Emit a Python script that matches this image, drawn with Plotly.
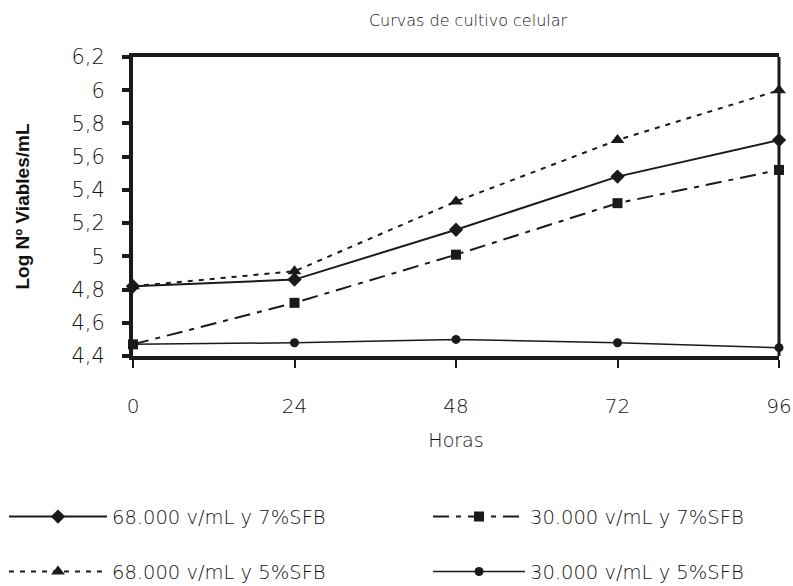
import plotly.graph_objects as go

horas = [0, 24, 48, 72, 96]
s68_7 = [4.82, 4.86, 5.16, 5.48, 5.70]
s30_7 = [4.47, 4.72, 5.01, 5.32, 5.52]
s68_5 = [4.82, 4.91, 5.33, 5.70, 6.00]
s30_5 = [4.47, 4.48, 4.50, 4.48, 4.45]

names = ["68.000 v/mL y 7%SFB", "30.000 v/mL y 7%SFB",
         "68.000 v/mL y 5%SFB", "30.000 v/mL y 5%SFB"]
y_ticks = [4.4, 4.6, 4.8, 5.0, 5.2, 5.4, 5.6, 5.8, 6.0, 6.2]

FONT = "DejaVu Sans"
TXT = "#111111"
fig = go.Figure()
fig.add_trace(go.Scatter(x=horas, y=s68_7, name=names[0], mode="lines+markers",
                         line=dict(color="#1a1a1a", width=2),
                         marker=dict(symbol="diamond", size=11, color="#1a1a1a"),
                         cliponaxis=False, legend="legend", showlegend=True))
fig.add_trace(go.Scatter(x=horas, y=s30_7, name=names[1], mode="lines+markers",
                         line=dict(color="#1a1a1a", width=2, dash="16px,7px,5px,7px"),
                         marker=dict(symbol="square", size=10, color="#1a1a1a"),
                         cliponaxis=False, legend="legend2", showlegend=True))
fig.add_trace(go.Scatter(x=horas, y=s68_5, name=names[2], mode="lines+markers",
                         line=dict(color="#1a1a1a", width=2, dash="5px,6px"),
                         marker=dict(symbol="triangle-up", size=12, color="#1a1a1a"),
                         cliponaxis=False, legend="legend3", showlegend=True))
fig.add_trace(go.Scatter(x=horas, y=s30_5, name=names[3], mode="lines+markers",
                         line=dict(color="#1a1a1a", width=1.5),
                         marker=dict(symbol="circle", size=9, color="#1a1a1a"),
                         cliponaxis=False, legend="legend4", showlegend=True))

def leg(x, y, iw):
    return dict(orientation="h", xref="paper", yref="paper", x=x, y=y,
                xanchor="left", yanchor="middle", visible=True,
                font=dict(family=FONT, size=19.5, color=TXT, weight=300),
                bgcolor="rgba(0,0,0,0)", itemwidth=iw)

fig.update_layout(
    width=793, height=586,
    showlegend=True,
    margin=dict(l=133, r=14, t=57, b=230, autoexpand=False),
    paper_bgcolor="white", plot_bgcolor="white",
    separators=",.",
    title=dict(text="Curvas de cultivo celular", x=0.5186, xref="paper",
               y=0.966, yanchor="middle",
               xanchor="center", font=dict(family=FONT, size=16, color=TXT, weight=300)),
    xaxis=dict(range=[0, 96], tickvals=horas, showgrid=False, zeroline=False,
               automargin=False,
               showline=True, linewidth=4, linecolor="#1a1a1a", mirror=True,
               ticks="outside", ticklen=8, tickwidth=1.5, tickcolor="#1a1a1a",
               ticklabelstandoff=21,
               tickfont=dict(family=FONT, size=20, color=TXT, weight=300),
               title=dict(text="Horas", font=dict(family=FONT, size=19, color=TXT, weight=300),
                          standoff=18)),
    yaxis=dict(range=[4.4, 6.2], tickvals=y_ticks, showgrid=False, zeroline=False,
               automargin=False,
               showline=True, linewidth=4, linecolor="#1a1a1a",
               ticks="outside", ticklen=7, tickwidth=4, tickcolor="#1a1a1a",
               ticklabelstandoff=13,
               tickfont=dict(family=FONT, size=21, color=TXT, weight=300),
               title=dict(text="<b>Log Nº Viables/mL</b>",
                          font=dict(family="Liberation Sans", size=19, color="#111"),
                          standoff=38)),
    legend=leg(-0.1997, -0.538, 98),
    legend2=leg(0.4567, -0.538, 92),
    legend3=leg(-0.1997, -0.722, 98),
    legend4=leg(0.4567, -0.722, 92),
    shapes=[dict(type="line", xref="paper", yref="paper", x0=1, x1=1, y0=0, y1=1,
                 line=dict(color="#1a1a1a", width=3))],
)

fig.write_html("out.html",
               config={"displayModeBar": False},
               post_script="document.body.style.margin='0';"
                           "document.body.style.overflow='hidden';")
